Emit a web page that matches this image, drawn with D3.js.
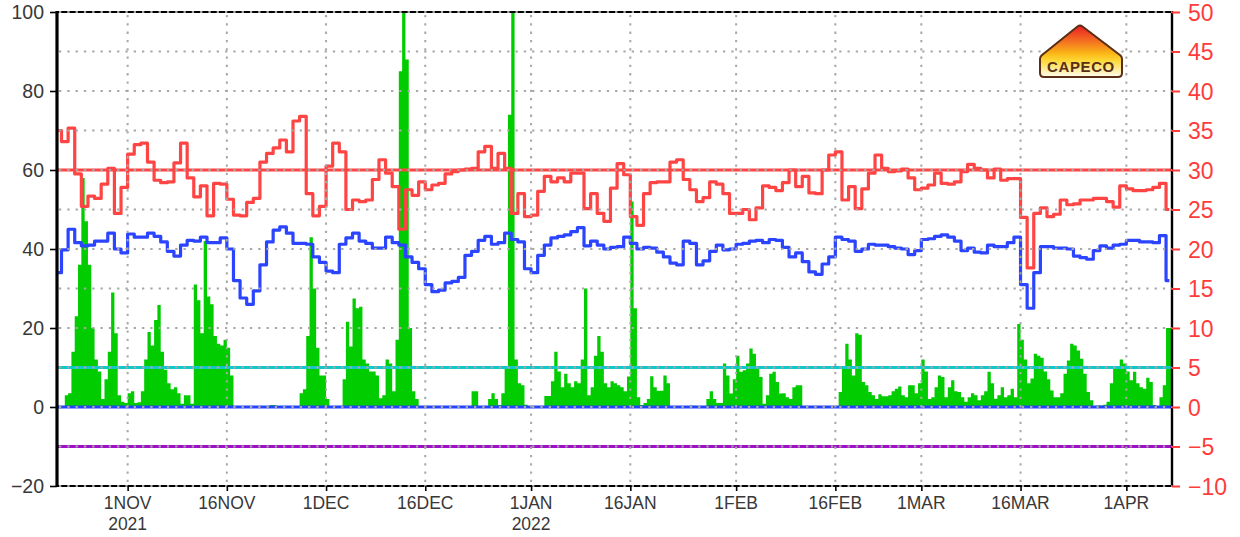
<!DOCTYPE html>
<html>
<head>
<meta charset="utf-8">
<script src="https://cdn.jsdelivr.net/npm/d3@7"></script>
<style>
  body { margin: 0; background: #fff; }
  svg { display: block; }
</style>
</head>
<body>
<svg id="chart" width="1240" height="537"></svg>
<script>
// Series start (00 UTC); rainfall is 12-hourly, temperatures are daily.
const seriesStart = Date.UTC(2021, 9, 21);

// Rainfall (mm), one value per 12 h, left axis
const rainfall = [
  0, 0, 0, 3, 3.5, 14, 23, 36, 58, 47,
  36, 20, 12, 9, 2, 7, 14, 29, 18.7, 3,
  1.3, 1, 3.5, 4, 1, 1.2, 4, 12, 19, 15.6,
  22, 25.8, 14, 9.4, 6, 4.5, 5, 3.5, 0.8, 3,
  3, 0.8, 31, 27, 18.7, 42, 28, 26, 18, 16,
  15.6, 17, 15, 8, 0, 0, 0, 0, 0, 0,
  0, 0, 0, 0, 0, 0.5, 0.5, 0, 0, 0,
  0, 0, 0, 0, 3.5, 4.5, 18, 43, 30, 15,
  8, 8, 2, 0, 0, 0, 0, 7, 21.6, 15.3,
  27.5, 25, 25.4, 12, 11, 9, 9, 8, 2.2, 3,
  12, 11, 4, 17, 85, 100, 88, 20, 4, 2,
  0, 0, 0, 0, 0, 0, 0, 0, 0, 0,
  0, 0, 0, 0, 0, 0, 4, 4, 0, 0,
  0, 2, 3.5, 2, 0.5, 3.5, 10, 74, 100, 12,
  6, 5.5, 0.6, 0, 0, 0, 0, 0, 2.8, 2.8,
  6.5, 14, 9, 5, 8.4, 6, 5, 6.5, 6, 12,
  30, 3, 5, 13, 18, 14, 6, 5, 6.5, 6,
  5.5, 5, 4, 7.7, 52, 25, 2.5, 0.5, 1, 2,
  7.8, 5, 4.1, 4.1, 8, 6, 0, 0, 0, 0,
  0, 0, 0.3, 0.3, 0, 0, 0, 2, 4, 2,
  1, 1, 11, 8, 3.4, 7, 13, 8.9, 9.3, 11,
  14.8, 13.5, 9.7, 7.6, 0.8, 3, 8.4, 8.9, 6.3, 3.4,
  3.5, 2.5, 2, 5, 5.5, 5.5, 0, 0, 0, 0,
  0, 0, 0, 0, 0, 0, 0, 3.8, 10, 16,
  12, 8, 18.7, 18.3, 6.3, 5.5, 3.8, 3, 2, 3.2,
  2.7, 2.7, 3, 4, 4.6, 5.2, 3, 2.5, 5.5, 5.5,
  3.5, 6, 12, 9, 2, 2.5, 5, 8, 7.6, 2.5,
  5, 6.8, 4, 3.8, 2.5, 1.3, 2.5, 3.5, 3, 1.7,
  3, 4, 8.9, 6, 2.1, 3, 5, 2.5, 3, 4.6,
  2.5, 21, 17, 12, 6, 7.2, 13.5, 13, 12.5, 9,
  7, 4.2, 2.5, 2.5, 3.5, 8.4, 11.8, 16, 15.6, 14.3,
  12.2, 8.4, 3.8, 1.7, 0, 0.4, 0.4, 0.6, 1.3, 6,
  9.7, 10, 12, 11, 9, 6.8, 8.9, 6, 5, 4.6,
  7.4, 6.3, 0.5, 0.2, 2.5, 5.5, 20, 20
];

// Daily maximum temperature (°C), right axis
const tmax = [
  35, 33.6, 35.3, 29.5, 25.4, 26.7, 26.4, 28.2, 30.2, 24.5,
  27.8, 32, 33.2, 33.4, 31, 28.7, 28.4, 28.5, 30.9, 33.4,
  29, 26.6, 28, 24.2, 28.3, 28.2, 26.3, 24.3, 24.2, 25.9,
  26.4, 31, 32.1, 32.8, 33.8, 32.3, 36.2, 36.8, 27, 24.2,
  25.4, 30.5, 33.4, 32.3, 25, 26.2, 26, 26.2, 28.8, 31.3,
  29.6, 27.9, 22.5, 27.5, 26.8, 28.5, 27.5, 28.1, 28.3, 29.5,
  29.8, 30, 30.1, 30.2, 32.3, 33, 30.2, 32.1, 30.2, 24.5,
  27, 24.1, 24.3, 27.3, 29.2, 28.5, 29, 28.5, 29.6, 29.6,
  25.1, 27, 24.5, 23.5, 27.7, 30.8, 29.4, 24.1, 23, 27,
  28.4, 28.5, 28.5, 31, 31.3, 28.8, 27.5, 26, 26.5, 28.5,
  28.2, 27, 24.5, 24.5, 25, 23.7, 25.2, 28, 27.8, 27.4,
  28.4, 30, 27.9, 29.2, 27.1, 27, 30, 31.9, 32.3, 26.2,
  27.9, 25.1, 27.6, 29.6, 31.9, 30.2, 29.8, 29.9, 30.1, 29,
  27.5, 27.7, 28.1, 29.6, 28.3, 28.2, 28.5, 29.8, 30.7, 30.2,
  30, 29, 30.1, 28.7, 28.9, 28.9, 24, 17.6, 24.5, 25.2,
  24.1, 24.4, 26.2, 25.6, 25.7, 26.2, 26.2, 26.4, 26.4, 26,
  25.3, 28, 27.6, 27.4, 27.4, 27.5, 27.8, 28.3, 25
];

// Daily minimum temperature (°C), right axis
const tmin = [
  17, 19.9, 22.5, 20.8, 20.4, 20.5, 21, 21, 22, 20,
  19.5, 21.9, 21.5, 21.5, 22, 21.6, 20.9, 19.7, 19.1, 20.5,
  21.1, 21, 21.5, 20.8, 20.8, 21.4, 20, 16, 13.8, 13,
  14.7, 18, 20.9, 22.4, 22.8, 22, 20.7, 20.7, 20.6, 19,
  18.3, 17.2, 17, 20.6, 21.4, 22, 21, 20.7, 20.1, 20.1,
  21.5, 20.8, 20.5, 19, 18.3, 17.5, 15.5, 14.6, 14.8, 15.7,
  15.9, 16.4, 19.2, 19.7, 21.1, 21.6, 20.6, 20.8, 22, 21.2,
  20.9, 17.5, 17, 19.2, 20.5, 21.4, 21.6, 21.8, 22.2, 22.7,
  20.4, 21, 20.5, 20, 20.2, 20.3, 21.5, 20.7, 20, 20.2,
  20.1, 19.6, 19, 18.2, 18, 21, 20.7, 18, 18.5, 19.7,
  20.5, 19.9, 20, 20.6, 20.7, 21, 21.1, 20.8, 21.2, 21.1,
  20.2, 19, 19.5, 18.4, 17.1, 16.8, 18.1, 19, 21.5, 21.2,
  21, 19.7, 20, 20.6, 20.5, 20.5, 20.3, 20.1, 20, 19.3,
  19.8, 21.2, 21.3, 21.6, 21.8, 21.5, 21, 19.8, 20.1, 19.6,
  19.5, 20.5, 20.3, 20.3, 20.8, 21.5, 15.5, 12.5, 17, 20.3,
  20.3, 20.1, 20.1, 20, 19.1, 18.9, 18.7, 19.8, 20.4, 20.1,
  20.5, 20.6, 21.1, 21.1, 20.9, 20.9, 20.8, 21.7, 16
];

// Reference levels on the right axis (°C)
const refLevels = [30, 5, 0, -5];

// Axis ticks and labels
const leftTicks = [-20, 0, 20, 40, 60, 80, 100];
const rightTicks = [-10, -5, 0, 5, 10, 15, 20, 25, 30, 35, 40, 45, 50];
const dateTicks = ["2021-11-01", "2021-11-16", "2021-12-01", "2021-12-16", "2022-01-01",
                   "2022-01-16", "2022-02-01", "2022-02-16", "2022-03-01", "2022-03-16", "2022-04-01"];
const dateLabels = ["1NOV", "16NOV", "1DEC", "16DEC", "1JAN", "16JAN", "1FEB", "16FEB", "1MAR", "16MAR", "1APR"];
const yearLabels = ["2021", "", "", "", "2022", "", "", "", "", "", ""];

// ---------- layout & style ----------
const HOUR = 3600 * 1000, DAY = 24 * HOUR;
const plot = { left: 57, right: 1172, top: 12, bottom: 486 };
const FONT = "'Liberation Sans', Arial, Helvetica, sans-serif";
const refColors = ["#ff4444", "#10c8c8", "#2244ff", "#a010c8"];

const svg = d3.select("#chart");

const x = d3.scaleUtc()
  .domain([new Date(Date.UTC(2021, 9, 21, 7, 41)), new Date(Date.UTC(2022, 3, 7, 21, 36))])
  .range([plot.left, plot.right]);
const yL = d3.scaleLinear().domain([-20, 100]).range([plot.bottom, plot.top]);
const yR = d3.scaleLinear().domain([-10, 50]).range([plot.bottom, plot.top]);

svg.append("defs").append("clipPath").attr("id", "plotClip")
  .append("rect")
  .attr("x", plot.left).attr("y", plot.top)
  .attr("width", plot.right - plot.left).attr("height", plot.bottom - plot.top);

const inner = svg.append("g").attr("clip-path", "url(#plotClip)");

// Rainfall: contiguous 12-hourly bars drawn as one stepped area
const rainData = rainfall.map((v, i) => ({ t: seriesStart + i * 12 * HOUR, v }));
rainData.push({ t: seriesStart + rainfall.length * 12 * HOUR, v: rainfall[rainfall.length - 1] });
const rainArea = d3.area()
  .x(d => x(new Date(d.t)))
  .y0(yL(0))
  .y1(d => yL(d.v))
  .curve(d3.curveStepAfter);
inner.append("path").datum(rainData)
  .attr("d", rainArea)
  .attr("fill", "#00cc00");

// Reference levels
inner.append("g").selectAll("line")
  .data(refLevels)
  .join("line")
  .attr("x1", plot.left).attr("x2", plot.right)
  .attr("y1", d => yR(d)).attr("y2", d => yR(d))
  .attr("stroke", (d, i) => refColors[i])
  .attr("stroke-width", 3);

// Temperature lines
const toDaily = arr => arr.map((v, d) => ({ t: seriesStart + d * DAY + 12 * HOUR, v }));
const tLine = d3.line()
  .x(d => x(new Date(d.t)))
  .y(d => yR(d.v))
  .curve(d3.curveStep);

inner.append("path").datum(toDaily(tmin))
  .attr("d", tLine).attr("fill", "none")
  .attr("stroke", "#2a44ff").attr("stroke-width", 3.2).attr("stroke-linejoin", "round");
inner.append("path").datum(toDaily(tmax))
  .attr("d", tLine).attr("fill", "none")
  .attr("stroke", "#ff4444").attr("stroke-width", 3.2).attr("stroke-linejoin", "round");

// Frame
const frame = svg.append("g").attr("stroke", "#000");
frame.append("line").attr("x1", plot.left).attr("x2", plot.left)
  .attr("y1", plot.top - 1).attr("y2", plot.bottom + 1).attr("stroke-width", 3.2);
frame.append("line").attr("x1", plot.right).attr("x2", plot.right)
  .attr("y1", plot.top - 1).attr("y2", plot.bottom + 1).attr("stroke-width", 2.4);
frame.append("line").attr("x1", plot.left).attr("x2", plot.right)
  .attr("y1", plot.top).attr("y2", plot.top).attr("stroke-width", 2.2);
frame.append("line").attr("x1", plot.left).attr("x2", plot.right)
  .attr("y1", plot.bottom).attr("y2", plot.bottom).attr("stroke-width", 2.2);

// Dotted grid, drawn over the data
const grid = svg.append("g")
  .attr("stroke", "#a8a8a8").attr("stroke-width", 2).attr("stroke-dasharray", "2.3 6");
grid.selectAll("line.h")
  .data(d3.range(-20, 101, 10))
  .join("line").attr("class", "h")
  .attr("x1", plot.left + 2).attr("x2", plot.right)
  .attr("y1", d => yL(d)).attr("y2", d => yL(d));
grid.selectAll("line.v")
  .data(dateTicks)
  .join("line").attr("class", "v")
  .attr("x1", d => x(new Date(d + "T00:00:00Z"))).attr("x2", d => x(new Date(d + "T00:00:00Z")))
  .attr("y1", plot.top + 3).attr("y2", plot.bottom);

// Left axis
const gLeft = svg.append("g").attr("transform", `translate(${plot.left},0)`)
  .call(d3.axisLeft(yL).tickValues(leftTicks).tickSize(7).tickPadding(6)
    .tickFormat(d => d < 0 ? "\u2212" + Math.abs(d) : d));
gLeft.select(".domain").remove();
gLeft.selectAll(".tick line").attr("stroke", "#000").attr("stroke-width", 1.6);
gLeft.selectAll(".tick text")
  .attr("fill", "#383838").attr("font-family", FONT).attr("font-size", 19.5).attr("dy", "0.35em");

// Right axis
const gRight = svg.append("g").attr("transform", `translate(${plot.right},0)`)
  .call(d3.axisRight(yR).tickValues(rightTicks).tickSize(8).tickPadding(8)
    .tickFormat(d => d < 0 ? "\u2212" + Math.abs(d) : d));
gRight.select(".domain").remove();
gRight.selectAll(".tick line").attr("stroke", "#ff3b3b").attr("stroke-width", 2);
gRight.selectAll(".tick text")
  .attr("fill", "#ff3b3b").attr("font-family", FONT).attr("font-size", 23).attr("dy", "0.35em");

// Bottom axis
const dateObjs = dateTicks.map(d => new Date(d + "T00:00:00Z"));
const gBottom = svg.append("g").attr("transform", `translate(0,${plot.bottom})`)
  .call(d3.axisBottom(x).tickValues(dateObjs).tickSize(5).tickFormat(""));
gBottom.select(".domain").remove();
gBottom.selectAll(".tick line").attr("stroke", "#000").attr("stroke-width", 1.6);

const labels = svg.append("g")
  .attr("font-family", FONT).attr("font-size", 17.5).attr("fill", "#383838")
  .attr("text-anchor", "middle");
labels.selectAll("text.d")
  .data(dateObjs)
  .join("text").attr("class", "d")
  .attr("x", d => x(d)).attr("y", 509)
  .text((d, i) => dateLabels[i]);
labels.selectAll("text.yr")
  .data(dateObjs)
  .join("text").attr("class", "yr")
  .attr("x", d => x(d)).attr("y", 530)
  .text((d, i) => yearLabels[i]);

// CAPECO badge
const logo = svg.append("g");
const grad = svg.select("defs").append("linearGradient")
  .attr("id", "badgeFill").attr("x1", 0).attr("y1", 0).attr("x2", 0).attr("y2", 1);
[["0", "#ec1c24"], ["0.3", "#f36f21"], ["0.55", "#fbb917"], ["0.68", "#fdd835"], ["1", "#fffdf2"]]
  .forEach(([o, c]) => grad.append("stop").attr("offset", o).attr("stop-color", c));
logo.append("path")
  .attr("d", "M1077.5,26.5 Q1080,24.5 1082.5,26.5 L1120.5,55.5 Q1122,57 1122,59 L1122,73 Q1122,77 1118,77 L1044,77 Q1040,77 1040,73 L1040,59 Q1040,57 1041.5,55.5 Z")
  .attr("fill", "url(#badgeFill)")
  .attr("stroke", "#5a2e14").attr("stroke-width", 2);
logo.append("text")
  .attr("x", 1081).attr("y", 71.5)
  .attr("text-anchor", "middle")
  .attr("font-family", FONT).attr("font-weight", "bold").attr("font-size", 15)
  .attr("letter-spacing", 0.6)
  .attr("fill", "#5a2e14")
  .text("CAPECO");
</script>
</body>
</html>
